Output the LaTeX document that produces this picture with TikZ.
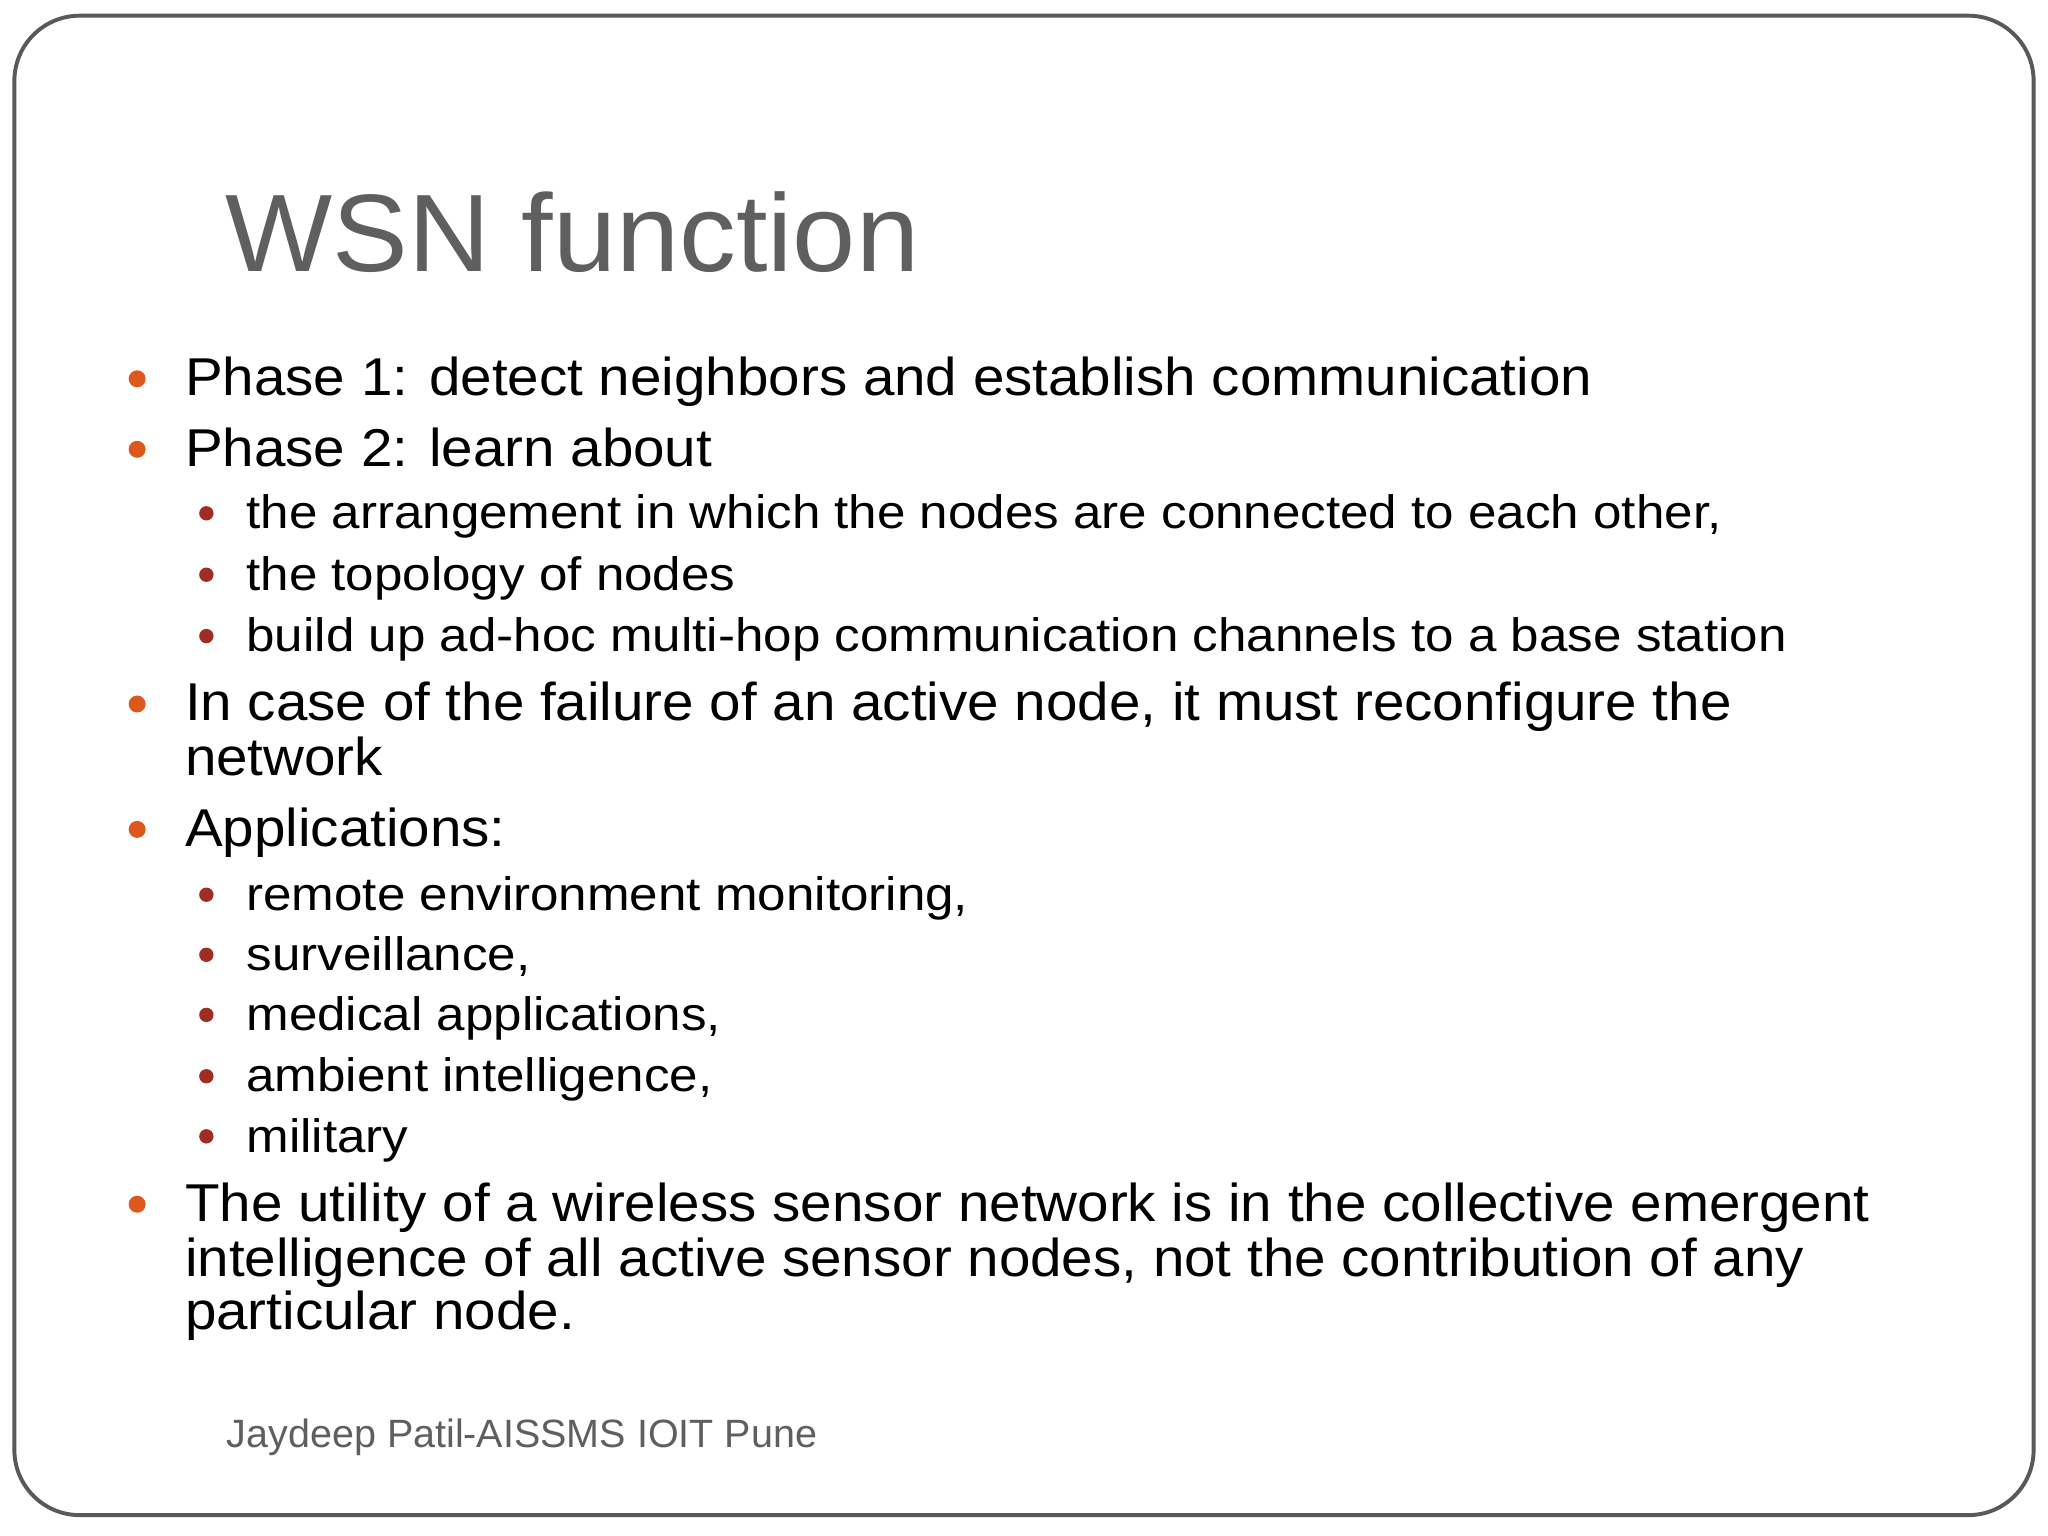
\documentclass[tikz,border=0pt]{standalone}
\usepackage{fontspec}
\setmainfont{Liberation Sans}
\newfontfamily\fa[FakeStretch=1.062]{Liberation Sans}
\newfontfamily\fb[FakeStretch=1.092]{Liberation Sans}
\newfontfamily\ft[FakeStretch=1.03]{Liberation Sans}
\definecolor{orb}{RGB}{222,88,30}
\definecolor{redb}{RGB}{160,45,35}
\definecolor{titleg}{RGB}{95,95,95}
\begin{document}
\begin{tikzpicture}[x=0.1mm,y=-0.1mm,
  lvl1/.style={anchor=base west,inner sep=0pt,font=\fa\fontsize{11.6}{13}\selectfont},
  lvl2/.style={anchor=base west,inner sep=0pt,font=\fb\fontsize{10.2}{12}\selectfont},
  b1/.style={fill=orb,draw=none},
  b2/.style={fill=redb,draw=none}]
\useasboundingbox (0,0) rectangle (1568,1176);
\fill[white] (0,0) rectangle (1568,1176);
\draw[gray!70!black,line width=0.3mm,rounded corners=5mm] (11,12) rectangle (1557,1160);
\node[anchor=base west,inner sep=0pt,text=titleg,font=\ft\fontsize{24}{28}\selectfont] (title) at (172,208) {WSN function};
\foreach \n/\y/\t in {p1/303/{Phase 1: detect neighbors and establish communication},
  p2/357/{Phase 2: learn about},
  p3/552/{In case of the failure of an active node, it must reconfigure the},
  p4/648/{Applications:},
  p5/935/{The utility of a wireless sensor network is in the collective emergent}}{
  \node[lvl1] (\n) at (141,\y) {\t};
  \fill[b1] (105,\y-13) circle (6.5);
}
\node[lvl1] (p3b) at (141,594) {network};
\node[lvl1] (p5b) at (141,977) {intelligence of all active sensor nodes, not the contribution of any};
\node[lvl1] (p5c) at (141,1018) {particular node.};
\foreach \n/\y/\t in {s1/405/{the arrangement in which the nodes are connected to each other,},
  s2/452/{the topology of nodes},
  s3/499/{build up ad-hoc multi-hop communication channels to a base station},
  s4/697/{remote environment monitoring,},
  s5/743/{surveillance,},
  s6/789/{medical applications,},
  s7/836/{ambient intelligence,},
  s8/882/{military}}{
  \node[lvl2] (\n) at (188,\y) {\t};
  \fill[b2] (158,\y-12) circle (5.5);
}
\node[anchor=base west,inner sep=0pt,text=titleg,font=\fontsize{8.6}{10}\selectfont] (foot) at (173,1108) {Jaydeep Patil-AISSMS IOIT Pune};
\end{tikzpicture}
\end{document}
